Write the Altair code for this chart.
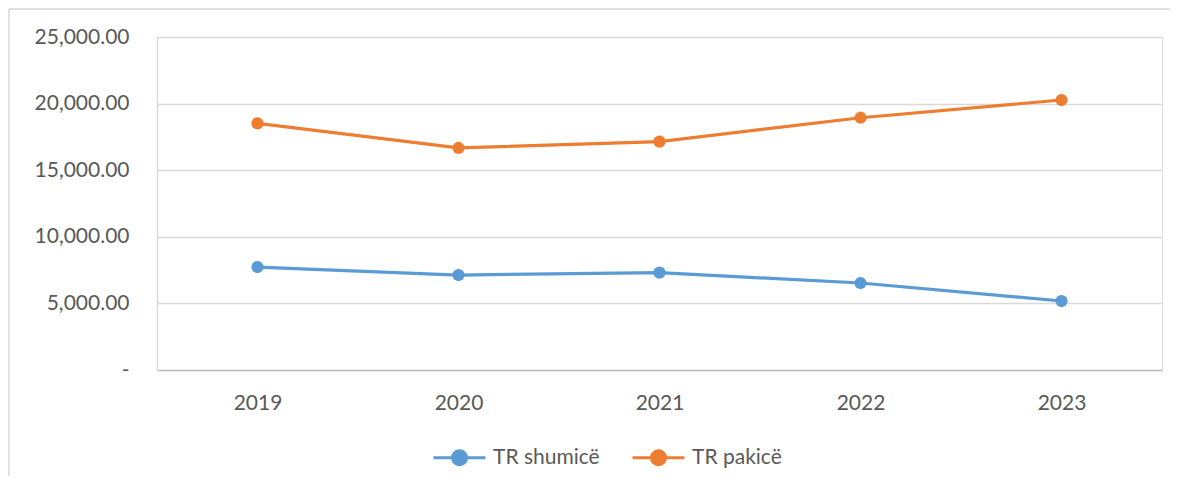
import altair as alt
import pandas as pd

years = ["2019", "2020", "2021", "2022", "2023"]
series_names = ["TR shumicë", "TR pakicë"]
shumice = [7730, 7130, 7310, 6530, 5180]
pakice = [18520, 16670, 17140, 18940, 20270]
colors = ["#5B9BD5", "#ED7D31"]

rows = []
for y, v in zip(years, shumice):
    rows.append({"Viti": y, "Seria": series_names[0], "Vlera": v})
for y, v in zip(years, pakice):
    rows.append({"Viti": y, "Seria": series_names[1], "Vlera": v})
df = pd.DataFrame(rows)

FONT = "Lato"
TXT = "#595959"

sym_path = "M-1,0H1M-0.27,0A0.27,0.27 0 1,0 0.27,0A0.27,0.27 0 1,0 -0.27,0Z"

color = alt.Color(
    "Seria:N",
    scale=alt.Scale(domain=series_names, range=colors),
    legend=alt.Legend(
        title=None,
        orient="none",
        direction="horizontal",
        legendX=275,
        legendY=393,
        symbolType=sym_path,
        symbolSize=2704,
        symbolStrokeWidth=3,
        labelFont=FONT,
        labelFontSize=21,
        labelColor=TXT,
        labelOffset=6,
        columnPadding=26,
    ),
)

base = alt.Chart(df).encode(
    x=alt.X(
        "Viti:N",
        title=None,
        sort=years,
        scale=alt.Scale(paddingInner=0, paddingOuter=0),
        axis=alt.Axis(
            labelAngle=0,
            labelFont=FONT,
            labelFontSize=21,
            labelColor=TXT,
            labelPadding=22,
            ticks=False,
            domainColor="#bfbfbf",
            domainWidth=1.5,
            grid=False,
        ),
    ),
    y=alt.Y(
        "Vlera:Q",
        title=None,
        scale=alt.Scale(domain=[0, 25000], nice=False),
        axis=alt.Axis(
            values=[0, 5000, 10000, 15000, 20000, 25000],
            labelExpr="datum.value == 0 ? '-\u00a0\u00a0\u00a0\u00a0\u00a0\u00a0' : format(datum.value, ',.2f')",
            labelFont=FONT,
            labelFontSize=21,
            labelColor=TXT,
            labelPadding=28,
            ticks=False,
            domainColor="#d9d9d9",
            domainWidth=1.5,
            gridColor="#d9d9d9",
            gridWidth=1.5,
        ),
    ),
    color=color,
)

lines = base.mark_line(strokeWidth=3.2)
points = base.mark_point(filled=True, size=150, opacity=1, shape="circle")

frame_src = alt.Chart(alt.Data(values=[{}]))
frame_left = frame_src.mark_rule(color="#d9d9d9", strokeWidth=1.5).encode(
    x=alt.value(-148), y=alt.value(-28), y2=alt.value(460)
)
frame_top = frame_src.mark_rule(color="#d9d9d9", strokeWidth=1.5).encode(
    x=alt.value(-148), x2=alt.value(1100), y=alt.value(-28)
)

chart = alt.layer(frame_left, frame_top, lines, points).properties(
    width=1005,
    height=333,
    autosize=alt.AutoSizeParams(type="none"),
    padding={"left": 149, "top": 29, "right": 8, "bottom": 106},
).configure_view(stroke=None).configure(background="white")

chart.save("out.html", embed_options={"renderer": "svg", "actions": False})
